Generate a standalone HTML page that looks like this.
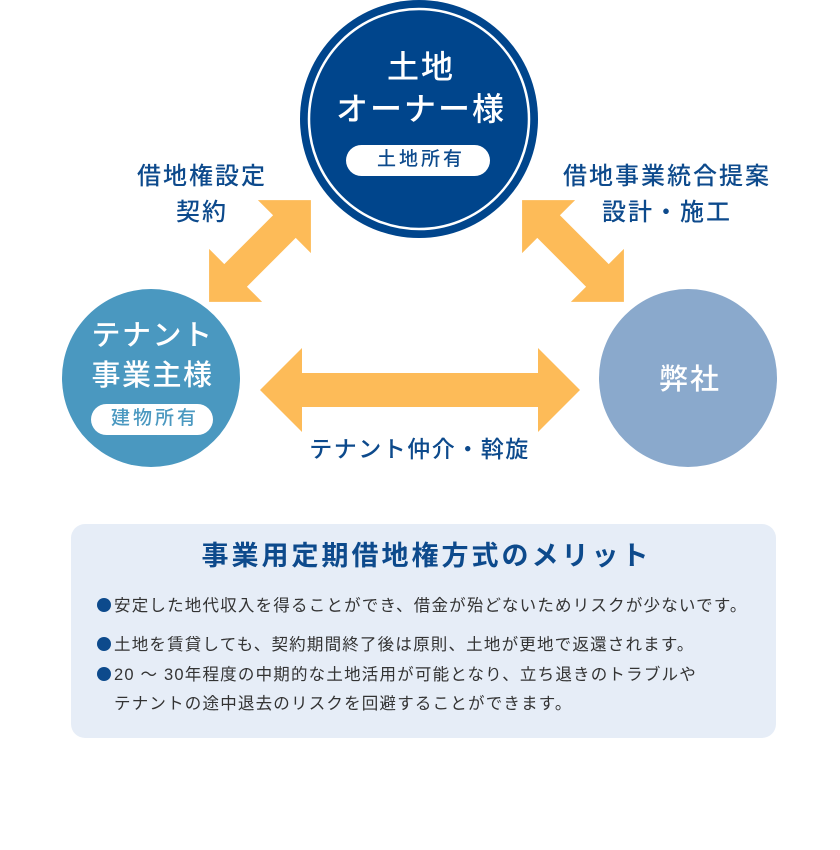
<!DOCTYPE html>
<html><head><meta charset="utf-8"><style>
body{margin:0;width:840px;height:850px;background:#fff;position:relative;overflow:hidden;font-family:"Liberation Sans","Noto Sans CJK JP",sans-serif}
.t{position:absolute;white-space:nowrap;line-height:1;text-align:center}
.n{color:#0d4a8c;font-weight:500}
.b{position:absolute;left:97px;font-size:16.5px;color:#333;line-height:1;white-space:nowrap;letter-spacing:1.2px}
.d{display:inline-block;width:14px;height:14px;border-radius:50%;background:#0d4a8c;margin-right:3px;vertical-align:-1px}
</style></head><body>
<svg width="840" height="850" style="position:absolute;left:0;top:0">
<circle cx="419" cy="119" r="119" fill="#00458c"/>
<circle cx="419" cy="119" r="110" fill="none" stroke="#fff" stroke-width="2.5"/>
<circle cx="151" cy="378" r="89" fill="#4a98c0"/>
<circle cx="688" cy="378" r="89" fill="#8aa9cc"/>
<g fill="#fdbb58">
<polygon points="260,390 302,348 302,373 538,373 538,348 580,390 538,432 538,407 302,407 302,432"/>
<g transform="translate(260,251) rotate(-45)"><polygon points="-72,0 -34.5,-37.5 -34.5,-16 34.5,-16 34.5,-37.5 72,0 34.5,37.5 34.5,16 -34.5,16 -34.5,37.5"/></g>
<g transform="translate(573,251) rotate(45)"><polygon points="-72,0 -34.5,-37.5 -34.5,-16 34.5,-16 34.5,-37.5 72,0 34.5,37.5 34.5,16 -34.5,16 -34.5,37.5"/></g>
</g>
<rect x="346" y="145" width="144" height="31" rx="15.5" fill="#fff"/>
<rect x="91" y="404" width="122" height="31" rx="15.5" fill="#fff"/>
<rect x="71" y="524" width="705" height="214" rx="14" fill="#e6edf7"/>
</svg>
<div class="t" style="left:319px;width:200px;top:51px;font-size:32px;color:#fff;letter-spacing:2px;padding-left:2px;font-weight:500">土地</div>
<div class="t" style="left:299px;width:240px;top:93px;font-size:32px;color:#fff;letter-spacing:2px;padding-left:2px;font-weight:500">オーナー様</div>
<div class="t n" style="left:346px;width:144px;top:150px;font-size:19px;letter-spacing:3px;padding-left:3px">土地所有</div>
<div class="t" style="left:61px;width:180px;top:322px;font-size:29px;color:#fff;letter-spacing:1.5px;padding-left:1.5px;font-weight:500">テナント</div>
<div class="t" style="left:61px;width:180px;top:362px;font-size:29px;color:#fff;letter-spacing:1.5px;padding-left:1.5px;font-weight:500">事業主様</div>
<div class="t" style="left:91px;width:122px;top:409px;font-size:19px;color:#4a98c0;font-weight:500;letter-spacing:3px;padding-left:3px">建物所有</div>
<div class="t" style="left:598px;width:180px;top:366px;font-size:29px;color:#fff;letter-spacing:2px;padding-left:2px;font-weight:500">弊社</div>
<div class="t n" style="left:100px;width:200px;top:165px;font-size:24px;letter-spacing:2px;padding-left:2px">借地権設定</div>
<div class="t n" style="left:100px;width:200px;top:201px;font-size:24px;letter-spacing:2px;padding-left:2px">契約</div>
<div class="t n" style="left:545px;width:240px;top:165px;font-size:24px;letter-spacing:2px;padding-left:2px">借地事業統合提案</div>
<div class="t n" style="left:545px;width:240px;top:201px;font-size:24px;letter-spacing:2px;padding-left:2px">設計・施工</div>
<div class="t n" style="left:268px;width:300px;top:438px;font-size:23px;letter-spacing:1.5px;padding-left:1.5px">テナント仲介・斡旋</div>
<div class="t n" style="left:71px;width:705px;top:543px;font-size:27px;font-weight:bold;color:#0d4a8c;letter-spacing:3px;padding-left:3px">事業用定期借地権方式のメリット</div>
<div class="b" style="top:598px"><i class="d"></i>安定した地代収入を得ることができ、借金が殆どないためリスクが少ないです。</div>
<div class="b" style="top:637px"><i class="d"></i>土地を賃貸しても、契約期間終了後は原則、土地が更地で返還されます。</div>
<div class="b" style="top:667px"><i class="d"></i>20 ～ 30年程度の中期的な土地活用が可能となり、立ち退きのトラブルや</div>
<div class="b" style="top:696px;left:114px">テナントの途中退去のリスクを回避することができます。</div>
</body></html>
